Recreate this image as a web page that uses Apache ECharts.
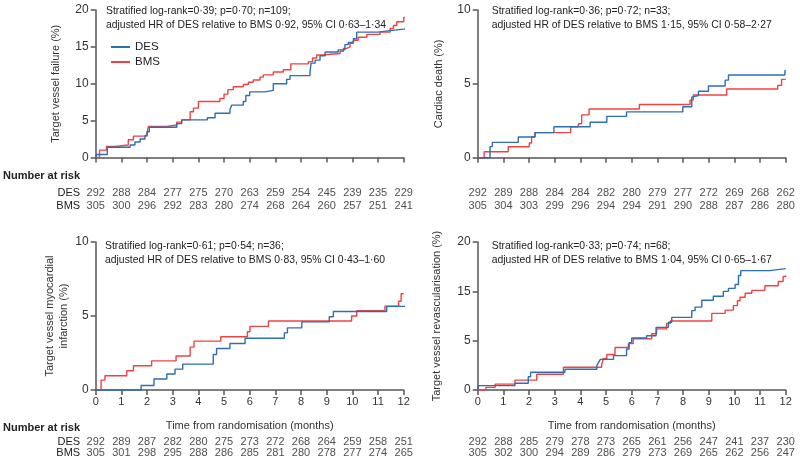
<!DOCTYPE html>
<html><head><meta charset="utf-8">
<script src="https://cdn.jsdelivr.net/npm/echarts@6/dist/echarts.min.js"></script>
<style>html,body{margin:0;padding:0;background:#fff}#c{width:800px;height:467px}</style>
</head><body><div id="c"></div>
<script>
// ---------- DATA ----------
const months = [0,1,2,3,4,5,6,7,8,9,10,11,12];

// Target vessel failure (cumulative %, step points [month, %])
const tvfDES = [[0,0],[0.04,0.4],[0.45,1.4],[1.34,1.7],[1.53,2.1],[1.73,2.5],[1.92,3.0],[2.0,3.5],[2.09,4.1],[3.16,4.6],[3.35,5.1],[4.35,5.4],[4.65,6.0],[5.23,6.5],[5.3,7.1],[5.75,7.6],[5.85,8.4],[6.0,8.9],[6.6,9.1],[6.92,10.0],[7.44,10.6],[7.57,11.1],[8.35,11.6],[8.39,12.8],[8.55,13.2],[8.74,13.8],[8.94,14.3],[9.45,14.6],[9.71,15.3],[9.84,15.6],[10.04,16.1],[10.17,17.0],[11.0,17.2],[11.47,17.4],[12.0,17.6],[12.33,17.6]];
const tvfBMS = [[0,0],[0.15,1.0],[0.42,1.5],[0.75,1.7],[1.27,2.4],[1.47,2.9],[2.0,3.3],[2.05,4.2],[2.77,4.4],[3.16,4.8],[3.35,5.1],[3.68,6.2],[3.81,6.7],[4.0,7.6],[4.84,8.0],[5.0,8.6],[5.15,9.2],[5.36,9.6],[5.75,9.9],[5.95,10.2],[6.14,10.5],[6.4,10.9],[6.53,11.2],[6.92,11.6],[7.31,11.9],[7.6,12.7],[8.29,13.0],[8.45,13.5],[8.61,13.9],[8.81,14.1],[9.52,14.4],[9.65,14.8],[9.78,15.0],[9.91,15.5],[10.04,15.9],[10.23,16.3],[10.56,16.7],[11.08,17.0],[11.47,17.5],[11.6,17.9],[11.73,18.4],[12.0,19.0],[12.33,19.0]];

// Cardiac death
const cdDES = [[0,0],[0.48,0.75],[0.57,1.04],[1.58,1.4],[2.23,1.7],[2.97,2.1],[4.38,2.4],[5.03,2.8],[5.8,3.1],[7.99,3.45],[8.34,4.1],[8.4,4.2],[8.6,4.5],[8.99,4.85],[9.64,5.25],[9.77,5.6],[11.97,5.9],[12.0,5.9]];
const cdBMS = [[0,0],[0.25,0.4],[1.19,0.74],[2.01,1.0],[2.1,1.4],[2.23,1.7],[3.62,2.1],[3.92,2.3],[4.05,2.9],[4.34,3.3],[6.3,3.6],[8.27,3.9],[8.4,4.25],[9.7,4.65],[11.69,4.9],[11.84,5.3],[12.0,5.3]];

// Target vessel myocardial infarction
const miDES = [[0,0],[1.77,0.3],[2.27,0.74],[2.77,1.08],[3.09,1.41],[3.39,1.75],[4.58,2.4],[4.71,2.8],[5.23,3.14],[5.82,3.5],[7.35,3.86],[7.47,4.2],[8.03,4.6],[9.1,4.95],[9.26,5.3],[11.34,5.65],[12.33,5.65]];
const miBMS = [[0,0],[0.21,0.67],[0.36,0.96],[1.21,1.3],[1.47,1.64],[2.18,1.97],[3.13,2.3],[3.68,2.9],[3.83,3.3],[4.87,3.6],[5.91,3.94],[6.01,4.3],[6.73,4.66],[9.97,5.0],[10.17,5.35],[11.27,5.67],[11.8,6.0],[11.9,6.5],[12.0,6.5]];

// Target vessel revascularisation (plotted in axis units)
const tvrDES = [[0,0],[0.04,0.44],[1.45,0.68],[1.97,1.35],[2.06,1.8],[3.4,2.1],[4.64,2.47],[4.71,2.8],[4.78,3.1],[5.29,3.48],[5.8,4.15],[5.9,4.8],[6.0,5.27],[6.58,5.5],[6.95,6.35],[7.43,6.86],[7.56,7.36],[8.34,8.04],[8.47,8.4],[8.73,9.1],[9.18,9.5],[9.57,10.0],[9.77,10.3],[10.03,10.7],[10.16,11.6],[10.25,12.1],[11.39,12.3],[12.0,12.3]];
const tvrBMS = [[0,0],[0.32,0.27],[0.68,0.6],[1.45,1.0],[2.3,1.6],[3.34,2.3],[4.83,2.6],[4.9,3.2],[5.03,3.6],[5.35,4.3],[5.87,4.7],[6.06,5.2],[6.78,5.7],[6.97,6.2],[7.36,6.75],[7.5,7.0],[9.12,7.77],[9.64,8.1],[9.96,8.55],[10.12,9.05],[10.22,9.4],[10.42,9.8],[10.68,10.1],[11.19,10.57],[11.71,11.0],[11.9,11.5],[12.0,11.6]];

// Number at risk
const tvfRiskDES = [292,288,284,277,275,270,263,259,254,245,239,235,229];
const tvfRiskBMS = [305,300,296,292,283,280,274,268,264,260,257,251,241];
const cdRiskDES  = [292,289,288,284,284,282,280,279,277,272,269,268,262];
const cdRiskBMS  = [305,304,303,299,296,294,294,291,290,288,287,286,280];
const miRiskDES  = [292,289,287,282,280,275,273,272,268,264,259,258,251];
const miRiskBMS  = [305,301,298,295,288,286,285,281,280,278,277,274,265];
const tvrRiskDES = [292,288,285,279,278,273,265,261,256,247,241,237,230];
const tvrRiskBMS = [305,302,300,294,289,286,279,273,269,265,262,256,247];

// Tick labels
const tvfTicks = ["0","5","10","15","20"];
const cdTicks  = ["0","5","10"];
const miTicks  = ["0","5","10"];
const tvrTicks = ["0","5","15","20"];

const seriesNames = ["DES","BMS"];
const titles = [
  "Stratified log-rank=0·39; p=0·70; n=109;\nadjusted HR of DES relative to BMS 0·92, 95% CI 0·63–1·34",
  "Stratified log-rank=0·36; p=0·72; n=33;\nadjusted HR of DES relative to BMS 1·15, 95% CI 0·58–2·27",
  "Stratified log-rank=0·61; p=0·54; n=36;\nadjusted HR of DES relative to BMS 0·83, 95% CI 0·43–1·60",
  "Stratified log-rank=0·33; p=0·74; n=68;\nadjusted HR of DES relative to BMS 1·04, 95% CI 0·65–1·67"
];
const yNames = ["Target vessel failure (%)","Cardiac death (%)","Target vessel myocardial\ninfarction (%)","Target vessel revascularisation (%)"];
const xName = "Time from randomisation (months)";

// ---------- STYLE / LAYOUT ----------
const FONT = "'Liberation Sans', Arial, sans-serif";
const FS = 10.5;
const C_DES = '#2f6db5', C_BMS = '#ef4343';
const AX = '#555';
const panels = [
  {left:95.7, top:10, h:147.5, max:20, ticks:tvfTicks, des:tvfDES, bms:tvfBMS, rd:tvfRiskDES, rb:tvfRiskBMS, xl:false, gap:33, tx:106, ty:3.5, rTop:187, rH:25, nar:170},
  {left:477.7, top:10, h:147.7, max:10, ticks:cdTicks, des:cdDES, bms:cdBMS, rd:cdRiskDES, rb:cdRiskBMS, xl:false, gap:32, tx:491.7, ty:3.5, rTop:187, rH:25},
  {left:95.7, top:242, h:148, max:10, ticks:miTicks, des:miDES, bms:miBMS, rd:miRiskDES, rb:miRiskBMS, xl:true, gap:20, tx:105, ty:238.5, rTop:435.8, rH:23.2, nar:422},
  {left:477.7, top:242, h:148, max:15, ticks:tvrTicks, des:tvrDES, bms:tvrBMS, rd:tvrRiskDES, rb:tvrRiskBMS, xl:true, gap:34, tx:491.7, ty:238.5, rTop:435.8, rH:23.2}
];
const W = 308;

const grid=[], xAxis=[], yAxis=[], series=[], title=[];
panels.forEach((p,i)=>{
  grid.push({left:p.left, top:p.top, width:W, height:p.h});
  xAxis.push({type:'value', gridIndex:i, min:0, max:12, interval:1,
    axisLine:{lineStyle:{color:AX, width:1.5}}, axisTick:{length:5, lineStyle:{color:AX, width:1.5}},
    splitLine:{show:false},
    axisLabel:{show:p.xl, color:'#333', fontFamily:FONT, fontSize:FS+0.5, margin:6},
    name:p.xl?xName:'', nameLocation:'middle', nameGap:30, nameTextStyle:{color:'#333', fontFamily:FONT, fontSize:FS+0.5}});
  yAxis.push({type:'value', gridIndex:i, min:0, max:p.max, interval:5,
    axisLine:{show:true, lineStyle:{color:AX, width:1.5}}, axisTick:{show:true, length:5, lineStyle:{color:AX, width:1.5}},
    splitLine:{show:false},
    axisLabel:{color:'#333', fontFamily:FONT, fontSize:FS+1.5, margin:7, formatter:(v)=>p.ticks[Math.round(v/5)]},
    name:yNames[i], nameLocation:'middle', nameRotate:90, nameGap:p.gap,
    nameTextStyle:{color:'#333', fontFamily:FONT, fontSize:FS+0.5, lineHeight:14}});
  series.push({type:'line', name:seriesNames[1], xAxisIndex:i, yAxisIndex:i, data:p.bms, step:'end', symbol:'none', clip:false,
    lineStyle:{color:C_BMS, width:1.4}, itemStyle:{color:C_BMS}});
  series.push({type:'line', name:seriesNames[0], xAxisIndex:i, yAxisIndex:i, data:p.des, step:'end', symbol:'none', clip:false,
    lineStyle:{color:C_DES, width:1.4}, itemStyle:{color:C_DES}});
  title.push({text:titles[i], left:p.tx, top:p.ty, padding:0,
    textStyle:{fontFamily:FONT, fontSize:FS-0.1, fontWeight:'normal', color:'#222', lineHeight:14.5}});
  if(p.nar!==undefined){
    title.push({text:'Number at risk', left:3, top:p.nar, padding:0,
      textStyle:{fontFamily:FONT, fontSize:FS+0.5, fontWeight:'bold', color:'#222'}});
  }
});
panels.forEach((p,i)=>{
  const gi = 4+i;
  grid.push({left:p.left, top:p.rTop, width:W, height:p.rH});
  xAxis.push({type:'value', gridIndex:gi, min:0, max:12, show:false});
  yAxis.push({type:'category', gridIndex:gi, data:seriesNames, inverse:true,
    axisLine:{show:false}, axisTick:{show:false},
    axisLabel:{show:(i%2===0), interval:0, color:'#222', fontFamily:FONT, fontSize:FS+0.5, margin:15.5}});
  [p.rd, p.rb].forEach((arr,k)=>{
    series.push({type:'scatter', xAxisIndex:gi, yAxisIndex:gi, symbolSize:0, silent:true,
      data:arr.map((v,j)=>[months[j], seriesNames[k], v]),
      label:{show:true, position:'inside', formatter:(q)=>String(q.value[2]), color:'#222', fontFamily:FONT, fontSize:FS+0.5}});
  });
});

const chart = echarts.init(document.getElementById('c'), null, {renderer:'canvas'});
chart.setOption({
  animation:false, backgroundColor:'#fff',
  title, grid, xAxis, yAxis, series,
  legend:{data:seriesNames, left:106, top:36, orient:'vertical', icon:'rect', itemWidth:19, itemHeight:2, itemGap:3,
    textStyle:{fontFamily:FONT, fontSize:FS+1, color:'#222', lineHeight:12}, selectedMode:false}
});
</script></body></html>
